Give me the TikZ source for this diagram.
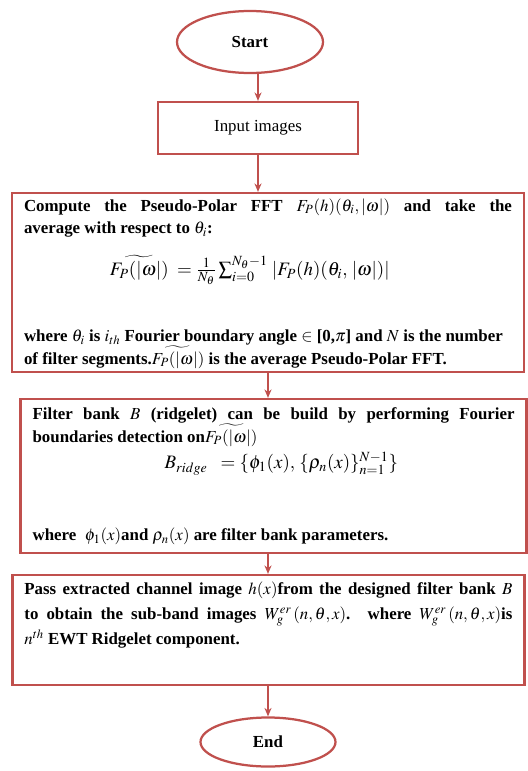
\documentclass[tikz,border=0pt]{standalone}
\usepackage{mathptmx}
\usepackage[no-math]{fontspec}
\setmainfont{Liberation Serif}
\usepackage{amsmath}
\usetikzlibrary{shapes.geometric,arrows.meta}
\definecolor{flowred}{RGB}{192,80,77}

\begin{document}
\begin{tikzpicture}[
  endpoint/.style={ellipse,draw=flowred,line width=1.6pt,fill=white,
    font=\fontsize{12}{15}\selectfont\bfseries},
  procbox/.style={rectangle,draw=flowred,line width=1.6pt,fill=white,
    align=justify,inner xsep=0.3cm,inner ysep=0.1cm,
    font=\fontsize{12}{16}\selectfont\bfseries},
  flowline/.style={draw=flowred,line width=1.2pt,-{Stealth[length=6pt,width=5pt]}}]
\useasboundingbox (0,0) rectangle (13.2,-19.275);
\node[endpoint,minimum width=3.65cm,minimum height=1.55cm] (start) at (6.25,-1.05) {Start};
\node[procbox,align=center,minimum width=5cm,minimum height=1.3cm,
  font=\fontsize{12}{15}\selectfont] (input) at (6.45,-3.2) {Input images};
\node[procbox,inner ysep=0pt] (fftbox) at (6.7,-7.0625) {\parbox[c][4.475cm][t]{12.2cm}{%
\rule{0pt}{0.46cm}Compute the Pseudo-Polar FFT $F_P(h)(\theta_i,|\omega|)$ and take the\linebreak
average with respect to $\theta_i$:\\[0.4cm]
\hspace*{2.15cm}{\fontsize{13.5}{16}\selectfont$\widetilde{F_P(|\omega|)}\;=\frac{1}{N_\theta}\sum\nolimits_{i=0}^{N_\theta-1}\,|F_P(h)(\theta_i,\,|\omega|)|$}\\[1.1cm]
where $\theta_i$ is $i_{th}$ Fourier boundary angle $\in$ [0,$\pi$] and $N$ is the number\\
of filter segments.$\widetilde{F_P(|\omega|)}$ is the average Pseudo-Polar FFT.}};
\node[procbox,text width=12.05cm,minimum height=3.85cm,
  font=\fontsize{12}{14}\selectfont\bfseries] (bankbox) at (6.84,-11.9) {%
Filter bank $B$ (ridgelet) can be build by performing Fourier\linebreak
boundaries detection on$\widetilde{F_P(|\omega|)}$\\[0.1cm]
\hspace*{3.3cm}{\fontsize{13.5}{16}\selectfont$B_{ridge}\ \;=\{\phi_1(x),\,\{\rho_n(x)\}_{n=1}^{N-1}\}$}\\[1.3cm]
where \ $\phi_1(x)$and $\rho_n(x)$ are filter bank parameters.};
\node[procbox,text width=12.2cm,minimum height=2.75cm,
  font=\fontsize{12}{17.8}\selectfont\bfseries] (passbox) at (6.71,-15.75) {%
Pass extracted channel image $h(x)$from the designed filter bank $B$\linebreak
to obtain the sub-band images $W_g^{er}\,(n,\theta,x)$. where $W_g^{er}\,(n,\theta,x)$is\linebreak
$n^{th}$ EWT Ridgelet component.\rule[-0.85cm]{0pt}{0pt}};
\node[endpoint,minimum width=3.375cm,minimum height=1.225cm] (stop) at (6.7,-18.55) {End};
\draw[flowline] (start.south -| input.north) -- (input);
\draw[flowline] (input.south) -- (input.south |- fftbox.north);
\draw[flowline] (fftbox.south) -- (fftbox.south |- bankbox.north);
\draw[flowline] (fftbox.south |- bankbox.south) -- (fftbox.south |- passbox.north);
\draw[flowline] (passbox.south -| stop.north) -- (stop);
\end{tikzpicture}
\end{document}
